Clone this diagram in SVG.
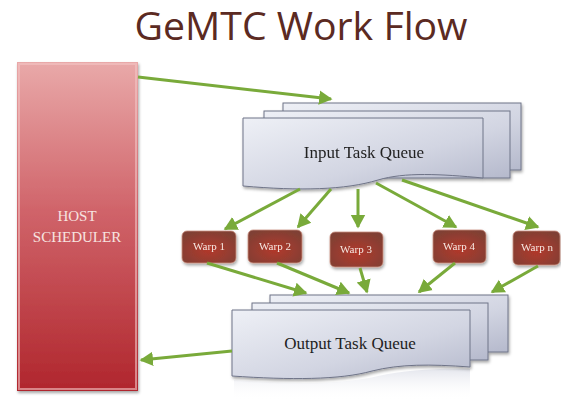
<svg xmlns="http://www.w3.org/2000/svg" width="561" height="400" viewBox="0 0 561 400">
<defs>
<style>
.title{font-family:"Open Sans","Liberation Sans",sans-serif;font-size:38px;fill:#5b2a22}
.host{font-family:"Liberation Serif",serif;font-size:15px;fill:#f7e4e0;text-anchor:middle}
.q{font-family:"Liberation Serif",serif;font-size:17px;fill:#222;text-anchor:middle}
.w{font-family:"Liberation Serif",serif;font-size:11px;fill:#f6e8e2;text-anchor:middle}
.sheet{fill:url(#qg);stroke:#6f7488;stroke-width:1}
.warp{fill:url(#wg);stroke:#c98f80;stroke-width:0.8}
.conn{stroke:#79aa3a;stroke-width:3;fill:none;marker-end:url(#ah)}
</style>
<linearGradient id="hg" x1="0" y1="0" x2="0" y2="1">
<stop offset="0" stop-color="#e9a9a9"/>
<stop offset="0.45" stop-color="#d0646a"/>
<stop offset="1" stop-color="#b0262d"/>
</linearGradient>
<linearGradient id="qg" x1="0" y1="0" x2="1" y2="1">
<stop offset="0" stop-color="#eef0f6"/>
<stop offset="0.6" stop-color="#d2d5e2"/>
<stop offset="1" stop-color="#b5b9cc"/>
</linearGradient>
<radialGradient id="wg" cx="0.5" cy="0.6" r="0.65">
<stop offset="0" stop-color="#b2382b"/>
<stop offset="1" stop-color="#7f4034"/>
</radialGradient>
<linearGradient id="refl" x1="0" y1="0" x2="0" y2="1">
<stop offset="0" stop-color="#c9ccdb" stop-opacity="0.5"/>
<stop offset="1" stop-color="#ffffff" stop-opacity="0"/>
</linearGradient>
<filter id="sh" x="-10%" y="-10%" width="125%" height="130%">
<feDropShadow dx="1" dy="2" stdDeviation="1.5" flood-color="#000" flood-opacity="0.35"/>
</filter>
<marker id="ah" markerWidth="6" markerHeight="6" refX="4" refY="3" orient="auto" markerUnits="strokeWidth">
<path d="M0,0.6 L4.5,3 L0,5.4 Z" fill="#79aa3a"/>
</marker>
</defs>
<rect width="561" height="400" fill="#ffffff"/>
<text class="title" x="301" y="40" text-anchor="middle" textLength="333" lengthAdjust="spacingAndGlyphs">GeMTC Work Flow</text>

<g id="host-scheduler">
<rect x="17" y="62" width="121" height="329" fill="url(#hg)" filter="url(#sh)"/>
<rect x="19" y="64" width="117" height="325" fill="none" stroke="#f3c4c4" stroke-opacity="0.6" stroke-width="2"/>
<text class="host" x="77" y="221">HOST</text>
<text class="host" x="77" y="242">SCHEDULER</text>
</g>

<g id="input-task-queue" filter="url(#sh)">
<rect class="sheet" x="283" y="103" width="238" height="67"/>
<rect class="sheet" x="264" y="111" width="246" height="67"/>
<path class="sheet" d="M243,118 L483,118 L483,178 C440,174 405,172 378,180 C345,190 300,191 243,186 Z"/>
<text class="q" x="364" y="158">Input Task Queue</text>
</g>

<g id="output-task-queue">
<path d="M234,380 C300,385 345,384 378,376 C405,370 440,368 470,369 L470,400 L234,400 Z" fill="url(#refl)"/>
<g filter="url(#sh)">
<rect class="sheet" x="270" y="295" width="238" height="57"/>
<rect class="sheet" x="252" y="303" width="236" height="57"/>
<path class="sheet" d="M232,310 L470,310 L470,367 C430,364 400,364 372,371 C340,380 290,380 232,376 Z"/>
</g>
<text class="q" x="350" y="349">Output Task Queue</text>
</g>

<g id="warp-1" filter="url(#sh)">
<rect class="warp" x="182" y="231" width="54" height="32" rx="5"/>
<text class="w" x="209" y="250">Warp 1</text>
</g>
<g id="warp-2" filter="url(#sh)">
<rect class="warp" x="248" y="230" width="54" height="33" rx="5"/>
<text class="w" x="275" y="250">Warp 2</text>
</g>
<g id="warp-3" filter="url(#sh)">
<rect class="warp" x="330" y="232" width="53" height="35" rx="5"/>
<text class="w" x="356" y="253">Warp 3</text>
</g>
<g id="warp-4" filter="url(#sh)">
<rect class="warp" x="433" y="230" width="53" height="33" rx="5"/>
<text class="w" x="459" y="250">Warp 4</text>
</g>
<g id="warp-n" filter="url(#sh)">
<rect class="warp" x="513" y="231" width="47" height="34" rx="5"/>
<text class="w" x="537" y="251">Warp n</text>
</g>

<g id="connectors">
<line class="conn" x1="138" y1="77" x2="331" y2="99"/>
<line class="conn" x1="300" y1="189" x2="225" y2="229"/>
<line class="conn" x1="331" y1="189" x2="298" y2="227"/>
<line class="conn" x1="358" y1="189" x2="358" y2="227"/>
<line class="conn" x1="376" y1="183" x2="456" y2="227"/>
<line class="conn" x1="402" y1="180" x2="538" y2="227"/>
<line class="conn" x1="207" y1="263" x2="306" y2="293"/>
<line class="conn" x1="277" y1="263" x2="349" y2="293"/>
<line class="conn" x1="360" y1="268" x2="367" y2="292"/>
<line class="conn" x1="455" y1="263" x2="419" y2="292"/>
<line class="conn" x1="538" y1="266" x2="492" y2="292"/>
<line class="conn" x1="232" y1="351" x2="141" y2="360"/>
</g>
</svg>
